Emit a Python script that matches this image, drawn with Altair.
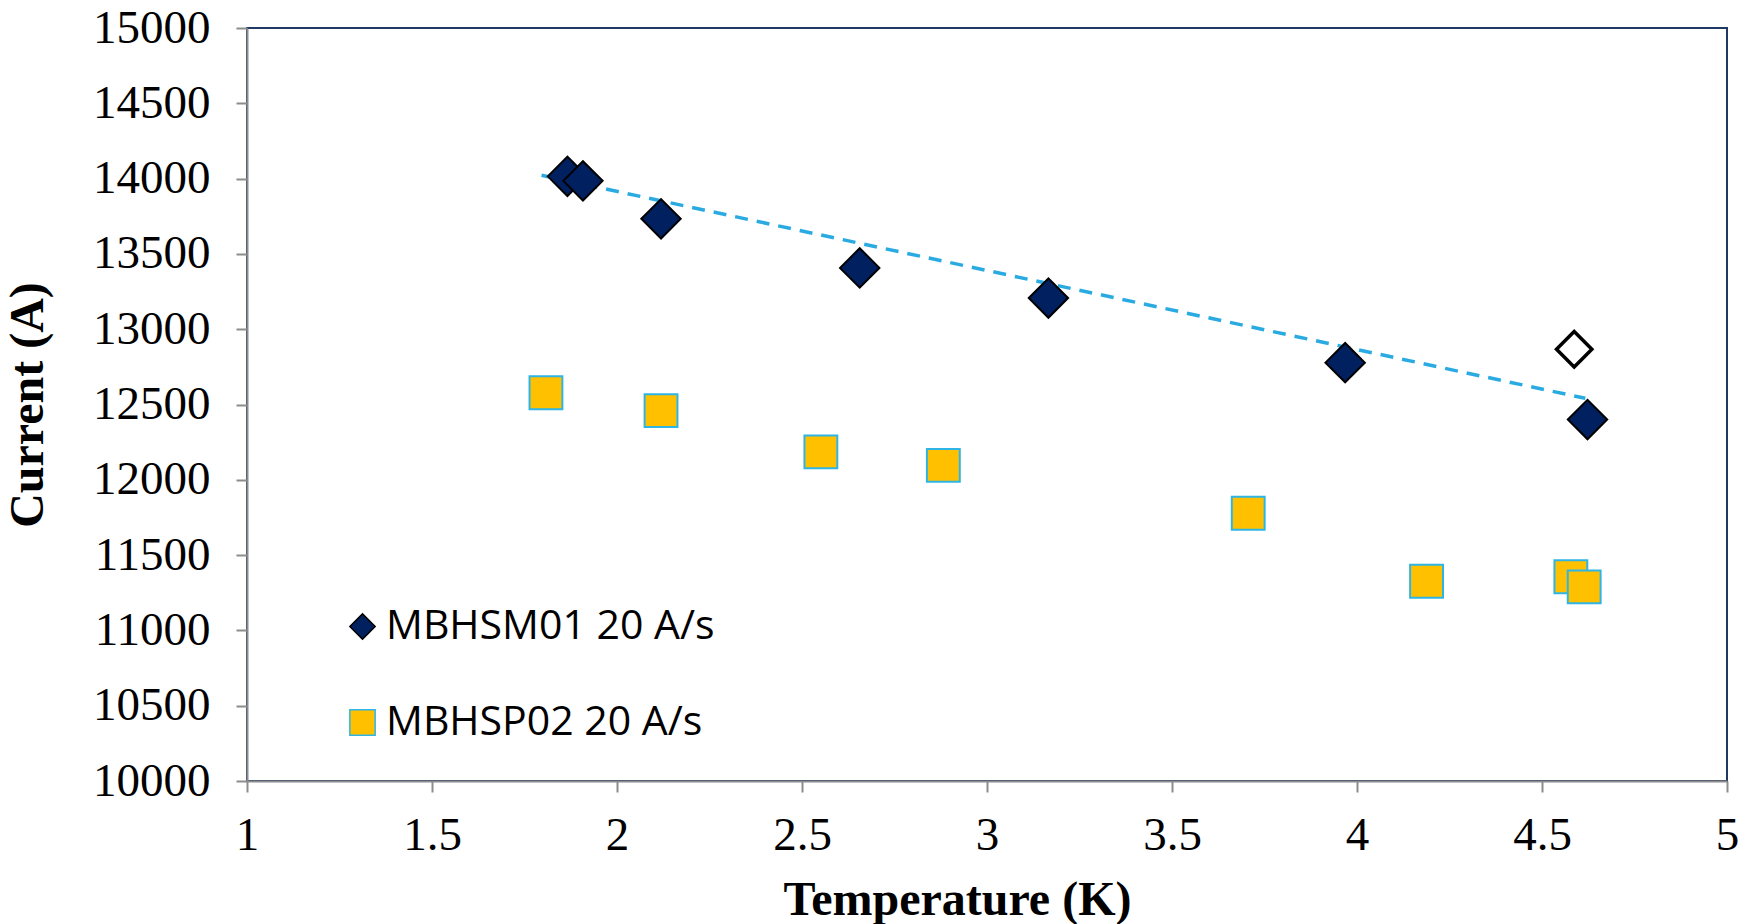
import altair as alt
import pandas as pd

# MBHSM01 20 A/s (filled diamonds)
m_temp = [1.866, 1.908, 2.119, 2.656, 3.166, 3.968, 4.623]
m_curr = [14015, 13985, 13733, 13407, 13207, 12778, 12400]
# open diamond (outlier, not in legend)
o_temp = [4.587]
o_curr = [12867]
# MBHSP02 20 A/s (squares)
p_temp = [1.808, 2.119, 2.551, 2.882, 3.706, 4.188, 4.578, 4.614]
p_curr = [12578, 12459, 12185, 12096, 11778, 11326, 11356, 11289]
# linear trend line endpoints
t_temp = [1.796, 4.617]
t_curr = [14022, 12541]

series = ["MBHSM01 20 A/s", "MBHSP02 20 A/s"]
x_ticks = [1, 1.5, 2, 2.5, 3, 3.5, 4, 4.5, 5]
y_ticks = list(range(10000, 15001, 500))

m_df = pd.DataFrame({"T": m_temp, "I": m_curr, "s": [series[0]] * len(m_temp)})
p_df = pd.DataFrame({"T": p_temp, "I": p_curr, "s": [series[1]] * len(p_temp)})
open_df = pd.DataFrame({"T": o_temp, "I": o_curr})
trend = pd.DataFrame({"T": t_temp, "I": t_curr})

xs = alt.Scale(domain=[1, 5], nice=False, zero=False)
ys = alt.Scale(domain=[10000, 15000], nice=False, zero=False)

x_axis = alt.Axis(values=x_ticks, format="~g", title="Temperature (K)", grid=False,
                  labelFont="Liberation Serif", labelFontSize=47, labelColor="#000",
                  titleFont="Liberation Serif", titleFontSize=48, titleFontWeight="bold",
                  titleColor="#000", titlePadding=18, labelPadding=20, tickSize=11,
                  tickColor="#8c8c8c", tickWidth=2, domainColor="#8c8c8c", domainWidth=2,
                  labelFlush=False, titleX=710)
y_axis = alt.Axis(values=y_ticks, format="d", title="Current (A)", grid=False,
                  labelFont="Liberation Serif", labelFontSize=47, labelColor="#000",
                  titleFont="Liberation Serif", titleFontSize=48, titleFontWeight="bold",
                  titleColor="#000", titlePadding=40, labelPadding=26, tickSize=11,
                  tickColor="#8c8c8c", tickWidth=2, domainColor="#8c8c8c", domainWidth=2,
                  labelFlush=False)

fill_scale = alt.Scale(domain=series, range=["#002060", "#FFC000"])
shape_scale = alt.Scale(domain=series, range=["diamond", "square"])
stroke_scale = alt.Scale(domain=series, range=["#000000", "#2EB5E5"])
leg = alt.Legend(title=None, orient="none", legendX=95, legendY=578,
                 labelFont="Open Sans", labelFontSize=41, labelColor="#000",
                 labelLimit=1000, symbolSize=640, rowPadding=54,
                 symbolStrokeWidth=1.5, labelOffset=3)


def series_layer(df, size):
    return alt.Chart(df).mark_point(filled=True, opacity=1, strokeWidth=2, size=size).encode(
        x=alt.X("T:Q", scale=xs, axis=x_axis),
        y=alt.Y("I:Q", scale=ys, axis=y_axis),
        fill=alt.Fill("s:N", scale=fill_scale, legend=leg),
        shape=alt.Shape("s:N", scale=shape_scale, legend=leg),
        stroke=alt.Stroke("s:N", scale=stroke_scale, legend=leg),
    )


trend_layer = alt.Chart(trend).mark_line(
    color="#29ABE2", strokeWidth=3.5, strokeDash=[13, 9]
).encode(x=alt.X("T:Q", scale=xs, axis=x_axis), y=alt.Y("I:Q", scale=ys, axis=y_axis))

open_layer = alt.Chart(open_df).mark_point(
    shape="diamond", filled=False, fill="white", stroke="black", strokeWidth=3.5, size=1250, opacity=1
).encode(x=alt.X("T:Q", scale=xs, axis=x_axis), y=alt.Y("I:Q", scale=ys, axis=y_axis))

chart = alt.layer(
    trend_layer, series_layer(m_df, 1550), series_layer(p_df, 1080), open_layer
).properties(
    width=1480, height=753,
    padding={"left": 247, "top": 28, "right": 23, "bottom": 143},
    autosize=alt.AutoSizeParams(type="none"),
    background="white",
).configure_view(stroke="#1F3864", strokeWidth=2)

chart.save("out.html", embed_options={"renderer": "svg", "actions": False})
